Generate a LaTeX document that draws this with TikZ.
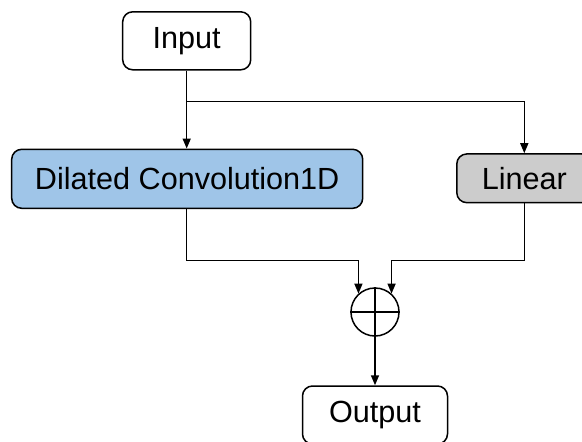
\documentclass[tikz,border=0pt]{standalone}
\usepackage{fontspec}
\setmainfont{Liberation Sans}
\usetikzlibrary{arrows.meta}
\definecolor{convblue}{HTML}{9FC5E8}
\definecolor{lingray}{HTML}{CCCCCC}
\tikzset{
  blockbox/.style={draw=black, line width=1.5pt, rounded corners=10pt,
    inner sep=0pt, font=\fontsize{30.6}{36}\selectfont},
  flow/.style={line width=1.5pt, -{Triangle[length=10pt,width=8pt]}},
  plainline/.style={line width=1.5pt},
}
\begin{document}
\begin{tikzpicture}[x=1pt, y=-1pt]
  \useasboundingbox (0,0) rectangle (582,442);
  \clip (0,0) rectangle (582,442);

  % blocks
  \node[blockbox, minimum width=128pt, minimum height=58pt] (input) at (186.7,40.8) {Input};
  \node[blockbox, fill=convblue, minimum width=351pt, minimum height=59pt] (dil) at (187.2,178.8) {Dilated Convolution1D};
  \node[blockbox, fill=lingray, minimum width=135pt, minimum height=48.7pt] (lin) at (524.3,178.3) {Linear};
  \node[blockbox, minimum width=145pt, minimum height=58pt] (out) at (375,415) {Output};

  % summation junction
  \node[circle, draw=black, line width=1.5pt, minimum size=48pt, inner sep=0pt] (sum) at (375,312) {};
  \draw[plainline] (sum.north) -- (sum.south);
  \draw[plainline] (sum.west) -- (sum.east);

  % routing points
  \coordinate (split) at (186.7,101.7);
  \coordinate (merge) at (375,260.7);

  % connectors
  \draw[flow] (input.south) -- (input.south |- dil.north);
  \draw[flow] (split) -| (lin.north);
  \draw[flow] (dil.south -| input.south) |- (merge -| sum.132) -- (sum.132);
  \draw[flow] (lin.south) |- (merge -| sum.48) -- (sum.48);
  \draw[flow] (sum.south) -- (out.north);
\end{tikzpicture}
\end{document}
